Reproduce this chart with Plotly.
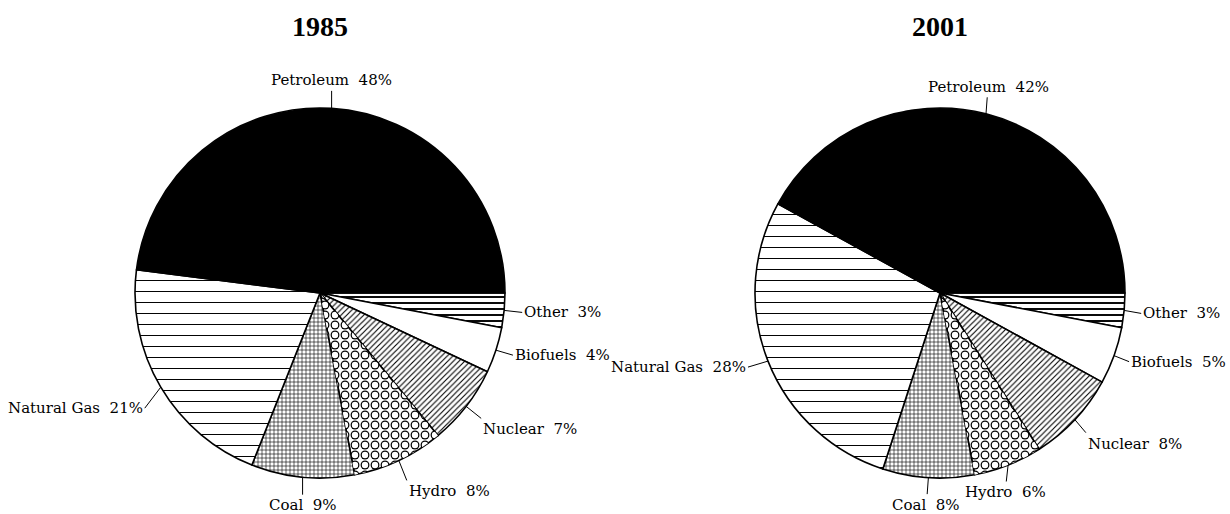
import math
import plotly.graph_objects as go

# ---------------- data ----------------
categories = ["Petroleum", "Natural Gas", "Coal", "Hydro", "Nuclear", "Biofuels", "Other"]
values_1985 = [48, 21, 9, 8, 7, 4, 3]
values_2001 = [42, 28, 8, 6, 8, 5, 3]
years = ["1985", "2001"]

# ---------------- styling ----------------
W, H = 1230, 514
R = 185
CY = 293
CX = [320, 940]

slice_color = {"Petroleum": "black", "Natural Gas": "white", "Coal": "white", "Hydro": "white",
               "Nuclear": "white", "Biofuels": "white", "Other": "white"}
pat_shape = {"Petroleum": "", "Natural Gas": "-", "Coal": "+", "Hydro": ".",
             "Nuclear": "/", "Biofuels": "", "Other": "-"}
pat_size = {"Petroleum": 8, "Natural Gas": 11, "Coal": 4, "Hydro": 10,
            "Nuclear": 4, "Biofuels": 8, "Other": 6}
pat_solid = {"Petroleum": 0.1, "Natural Gas": 0.09, "Coal": 0.28, "Hydro": 0.62,
             "Nuclear": 0.28, "Biofuels": 0.1, "Other": 0.32}

# label box offsets (px) from the slice's mid-arc point: dx, dy, xanchor, yanchor
label_style = [
    {"Petroleum": (0, -28, "center", "middle"), "Natural Gas": (-16, 21, "right", "middle"),
     "Coal": (0, 28, "center", "middle"), "Hydro": (8, 20, "left", "top"),
     "Nuclear": (15, 12, "left", "top"), "Biofuels": (17, 5, "left", "middle"),
     "Other": (18, 2, "left", "middle")},
    {"Petroleum": (2, -27, "center", "middle"), "Natural Gas": (-20, 6, "right", "middle"),
     "Coal": (-2, 27, "center", "middle"), "Hydro": (-3, 27, "center", "middle"),
     "Nuclear": (11, 13, "left", "top"), "Biofuels": (15, 6, "left", "middle"),
     "Other": (17, 3, "left", "middle")},
]

LABEL_FONT = dict(family="DejaVu Serif", size=15, color="black")
TITLE_FONT = dict(family="Liberation Serif", size=28, color="black")

fig = go.Figure()
annotations = []

for k, (year, vals) in enumerate(zip(years, [values_1985, values_2001])):
    cx = CX[k]
    domain = dict(x=[(cx - R) / W, (cx + R) / W], y=[1 - (CY + R) / H, 1 - (CY - R) / H])
    # draw clockwise from 3 o'clock with reversed order -> Petroleum ends up on top
    cats_r = categories[::-1]
    vals_r = vals[::-1]
    fig.add_trace(go.Pie(
        labels=cats_r, values=vals_r, sort=False, direction="clockwise", rotation=90,
        domain=domain, textinfo="none", hoverinfo="label+percent", showlegend=False,
        marker=dict(
            colors=[slice_color[c] for c in cats_r],
            line=dict(color="black", width=1.6),
            pattern=dict(
                shape=[pat_shape[c] for c in cats_r],
                size=[pat_size[c] for c in cats_r],
                solidity=[pat_solid[c] for c in cats_r],
                fgcolor="black",
                bgcolor=[slice_color[c] for c in cats_r],
            ),
        ),
    ))
    # overlay to hollow out hydro dots into rings
    fig.add_trace(go.Pie(
        labels=cats_r, values=vals_r, sort=False, direction="clockwise", rotation=90,
        domain=domain, textinfo="none", hoverinfo="skip", showlegend=False,
        marker=dict(
            colors=["rgba(0,0,0,0)"] * len(cats_r),
            line=dict(color="rgba(0,0,0,0)", width=0),
            pattern=dict(
                shape=["." if c == "Hydro" else "" for c in cats_r],
                size=[pat_size[c] for c in cats_r],
                solidity=[0.32 if c == "Hydro" else 0.1 for c in cats_r],
                fgcolor="white",
                bgcolor="rgba(0,0,0,0)",
            ),
        ),
    ))

    # labels with leader lines
    total = sum(vals)
    cum = 0.0
    for c, v in zip(categories, vals):
        # angle counterclockwise from 3 o'clock (Petroleum first, going CCW)
        mid = 2 * math.pi * (cum + v / 2) / total
        cum += v
        px = cx + R * math.cos(mid)
        py = CY - R * math.sin(mid)
        dx, dy, xa, ya = label_style[k][c]
        annotations.append(dict(
            x=px / W, y=1 - py / H, xref="paper", yref="paper",
            text=f"{c}\u00a0\u00a0{v}%", showarrow=True, arrowhead=0, arrowwidth=1,
            arrowcolor="black", ax=dx, ay=dy, xanchor=xa, yanchor=ya,
            font=LABEL_FONT, standoff=0, startstandoff=0,
        ))

    annotations.append(dict(
        x=cx / W, y=1 - 26 / H, xref="paper", yref="paper", text=f"<b>{year}</b>",
        showarrow=False, xanchor="center", yanchor="middle", font=TITLE_FONT,
    ))

fig.update_layout(
    width=W, height=H, margin=dict(l=0, r=0, t=0, b=0),
    paper_bgcolor="white", plot_bgcolor="white",
    annotations=annotations, showlegend=False,
)

fig.write_html("out.html")
